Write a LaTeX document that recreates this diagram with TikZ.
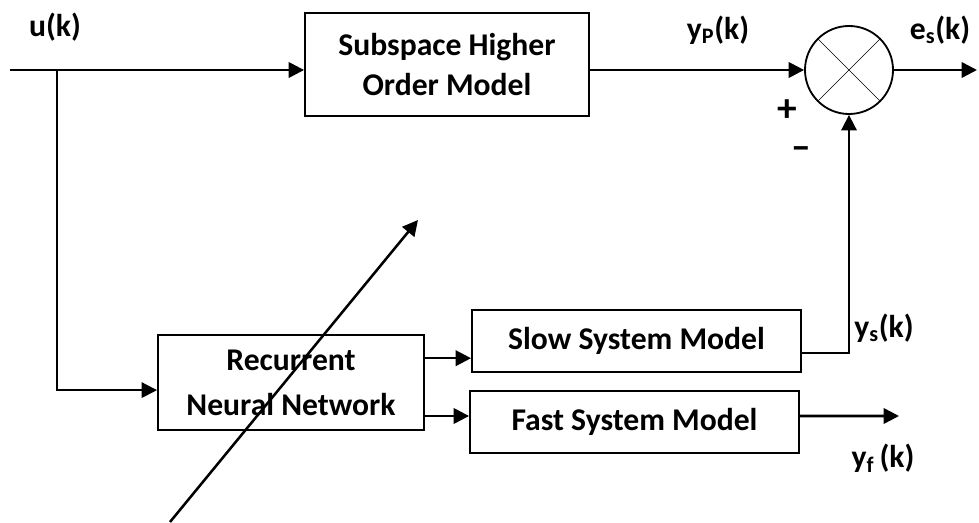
\documentclass[tikz,border=0pt]{standalone}
\usepackage{fontspec}
\setmainfont{Carlito}
\usetikzlibrary{arrows.meta, calc, positioning}

\begin{document}
\begin{tikzpicture}[x=0.025cm, y=-0.025cm,
    >={Triangle[length=11pt, width=11pt]},
    every node/.style={font=\fontsize{22.5}{29}\selectfont\bfseries},
    blockbox/.style={draw, line width=1.3pt, align=center, inner sep=0pt},
    sumnode/.style={draw, circle, line width=1.3pt, minimum size=2.2cm, inner sep=0pt},
    sig/.style={line width=1.8pt},
    thin sig/.style={line width=1.3pt}]
    \useasboundingbox (0,0) rectangle (979,523);

    \draw (447,64.5) node[blockbox, minimum width=7.1cm, minimum height=2.575cm] (sub) {Subspace Higher\\Order Model};
    \draw (849,70) node[sumnode] (sum) {};
    \draw (291,382.5) node[blockbox, minimum width=6.65cm, minimum height=2.375cm,
        font=\fontsize{22.5}{32}\selectfont\bfseries] (rnn) {Recurrent\\Neural Network};
    \draw (636.5,341) node[blockbox, minimum width=8.225cm, minimum height=1.55cm] (slow) {Slow System Model};
    \draw (634.5,422) node[blockbox, minimum width=8.225cm, minimum height=1.55cm] (fast) {Fast System Model};

    \coordinate (in) at (10,70);
    \coordinate (branch) at (57,70);
    \coordinate (out) at (977,70);
    \coordinate (rin) at ([yshift=-0.19cm]rnn.west);
    \coordinate (sin) at ([yshift=-0.43cm]slow.west);
    \coordinate (fin) at ([yshift=0.15cm]fast.west);
    \coordinate (sout) at ([yshift=-0.3cm]slow.east);
    \coordinate (fout) at ([yshift=0.15cm]fast.east);
    \coordinate (yf) at (899,416);
    \coordinate (tail) at (170,522);
    \coordinate (tip) at (418,220);

    \draw (55,27) node (u) {u(k)};
    \draw (718,30) node (yp) {y\textsubscript{P}(k)};
    \draw (940,30) node (es) {e\textsubscript{s}(k)};
    \draw (787,111) node[font=\fontsize{28}{28}\selectfont\bfseries] (plus) {+};
    \draw (801,153) node[font=\fontsize{28}{28}\selectfont\bfseries] (minus) {--};
    \draw (884,328) node (ys) {y\textsubscript{s}(k)};
    \draw (883,458) node (yfl) {y\textsubscript{f}\,(k)};

    \draw (sum.north west) -- (sum.south east);
    \draw (sum.north east) -- (sum.south west);

    \draw[sig, ->] (in) -- (in -| sub.west);
    \draw[sig, ->] (sub.east |- sum.west) -- (sum.west);
    \draw[sig, ->] (sum.east) -- (out);
    \draw[thin sig, ->] (branch) |- (rin);
    \draw[sig, ->] (rnn.east |- sin) -- (sin);
    \draw[sig, ->] (rnn.east |- fin) -- (fin);
    \draw[thin sig, ->] (sout) -| (sum.south);
    \draw[sig, ->] (fout) -- (yf);
    \draw[sig, ->] (tail) -- (tip);
\end{tikzpicture}
\end{document}
